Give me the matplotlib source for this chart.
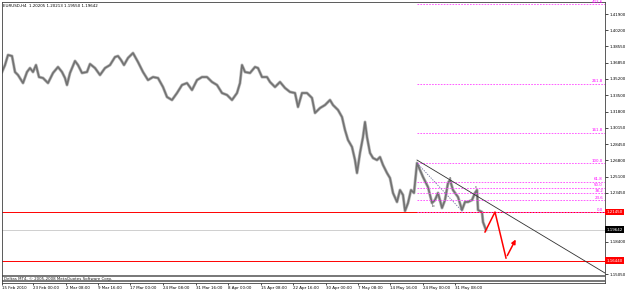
import numpy as np
import matplotlib.pyplot as plt

# EURUSD H4, traced close path (bar index, price)
bars = [0, 3, 6, 10, 13, 16, 21, 25, 28, 31, 34, 37, 41, 46, 51, 56, 60, 63, 65, 68,
        73, 76, 80, 85, 88, 93, 98, 103, 108, 113, 116, 119, 122, 126, 131, 136, 141, 146, 151, 156,
        161, 165, 170, 175, 180, 185, 190, 195, 200, 205, 210, 215, 220, 225, 230, 235, 238, 240, 243, 248,
        253, 256, 260, 265, 268, 273, 278, 283, 288, 293, 296, 300, 305, 310, 313, 318, 323, 328, 331, 336,
        340, 343, 346, 350, 353, 355, 358, 361, 363, 365, 368, 371, 375, 378, 381, 385, 388, 391, 395, 398,
        401, 403, 406, 409, 412, 415, 418, 421, 426, 430, 433, 436, 440, 443, 446, 448, 451, 456, 460, 463,
        466, 470, 473, 475, 476, 480, 481, 484]
price = [1.3591, 1.3663, 1.3767, 1.3756, 1.3591, 1.3560, 1.3477, 1.3591, 1.3632, 1.3591,
         1.3663, 1.3539, 1.3529, 1.3477, 1.3581, 1.3643, 1.3591, 1.3529, 1.3457, 1.3581,
         1.3705, 1.3663, 1.3581, 1.3591, 1.3674, 1.3632, 1.3560, 1.3632, 1.3663, 1.3746,
         1.3756, 1.3715, 1.3663, 1.3736, 1.3787, 1.3694, 1.3591, 1.3508, 1.3539, 1.3529,
         1.3436, 1.3333, 1.3302, 1.3374, 1.3457, 1.3477, 1.3405, 1.3508, 1.3539, 1.3539,
         1.3488, 1.3457, 1.3374, 1.3354, 1.3302, 1.3374, 1.3477, 1.3663, 1.3591, 1.3581,
         1.3643, 1.3632, 1.3539, 1.3539, 1.3488, 1.3436, 1.3488, 1.3426, 1.3385, 1.3374,
         1.3230, 1.3374, 1.3374, 1.3323, 1.3168, 1.3219, 1.3250, 1.3302, 1.3250, 1.3199,
         1.3126, 1.2992, 1.2889, 1.2817, 1.2682, 1.2548, 1.2755, 1.2920, 1.3075, 1.2920,
         1.2755, 1.2703, 1.2682, 1.2713, 1.2631, 1.2548, 1.2496, 1.2342, 1.2249, 1.2372,
         1.2321, 1.2156, 1.2238, 1.2372, 1.2342, 1.2651, 1.2579, 1.2507, 1.2403, 1.2238,
         1.2269, 1.2342, 1.2187, 1.2269, 1.2445, 1.2476, 1.2372, 1.2300, 1.2166, 1.2249,
         1.2249, 1.2269, 1.2342, 1.2372, 1.2166, 1.2145, 1.2042, 1.1959]

tick_bars = [0, 31, 64, 96, 128, 161, 194, 226, 259, 291, 324, 356, 388, 421, 453]
tick_labels = ['15 Feb 2010', '23 Feb 00:00', '2 Mar 08:00', '9 Mar 16:00', '17 Mar 00:00',
               '24 Mar 08:00', '31 Mar 16:00', '8 Apr 00:00', '15 Apr 08:00', '22 Apr 16:00',
               '30 Apr 00:00', '7 May 08:00', '14 May 16:00', '24 May 00:00', '31 May 08:00']
ytick_vals = [1.41900, 1.40200, 1.38550, 1.36850, 1.35200, 1.33500, 1.31800, 1.30150,
              1.28450, 1.26800, 1.25100, 1.23450, 1.18400, 1.15050]

fib_ratio = [0.0, 23.6, 38.2, 50.0, 61.8, 100.0, 161.8, 261.8, 423.6]
fib_zero = 1.2145
fib_hundred = 1.2651
support = [1.2145, 1.1644]
support_labels = ['1.21450', '1.16440']
last_price = 1.19642
trend_bar = [415, 603]
trend_price = [1.2682, 1.1515]
proj_bar = [483, 493, 504, 515]
proj_price = [1.1939, 1.2145, 1.1670, 1.1887]

fs = 2.9
fig = plt.figure(figsize=(6.25, 2.92), dpi=100)
ax = fig.add_axes([2/625, 9/292, 603/625, 281/292])
ax.set_xlim(0, 603)
ax.set_ylim(1.14121, 1.43140)

ax.plot(bars, price, color='#b8b8b8', lw=2.2)
ax.plot(bars, price, color='#727272', lw=1.2)

ax.axhline(last_price, color='#c8c8c8', lw=0.6)
for s in support:
    ax.axhline(s, color='red', lw=0.7)

fib_levels = [fib_zero + r / 100 * (fib_hundred - fib_zero) for r in fib_ratio]
for r, lv in zip(fib_ratio, fib_levels):
    ax.plot([415, 603], [lv, lv], color='#ff44ff', lw=0.6, ls=(0, (2, 1.5)))
    ax.text(601, lv + 0.0004, '%.1f' % r, color='#ff00ff', fontsize=fs, ha='right', va='bottom')
ax.plot([415, 460], [fib_hundred, 1.2156], color='#6a6a9a', lw=0.6, ls=(0, (1.5, 1.5)))

ax.plot(trend_bar, trend_price, color='#303030', lw=0.6)

ax.text(431, 1.2195, 'b', fontsize=fs, color='#404040', ha='center')
ax.text(448, 1.2490, 'a', fontsize=fs, color='#404040', ha='center')
ax.text(474, 1.2395, 'c', fontsize=fs, color='#404040', ha='center')

ax.plot(proj_bar[:3], proj_price[:3], color='red', lw=1.1)
ax.annotate('', xy=(proj_bar[3], proj_price[3]), xytext=(proj_bar[2], proj_price[2]),
            arrowprops=dict(arrowstyle='-|>', color='red', lw=1.1, mutation_scale=6))

ax.axhspan(1.1474, 1.1495, color='#7a7a7a', lw=0)
ax.axhspan(1.1418, 1.1440, color='#7a7a7a', lw=0)
ax.text(2, 1.1457, 'Deltas MT4, \u00a9 2005-2008 MetaQuotes Software Corp.', fontsize=fs,
        color='#202020', va='center')

ax.yaxis.tick_right()
ax.set_yticks(ytick_vals)
ax.set_yticklabels(['%.5f' % v for v in ytick_vals])
ax.set_xticks(tick_bars)
ax.set_xticklabels(tick_labels, ha='left')
ax.tick_params(axis='both', labelsize=fs, length=2, width=0.5, pad=1.2)
ax.tick_params(axis='x', length=1.5, pad=0.6)
for sp in ax.spines.values():
    sp.set_linewidth(0.6)
    sp.set_color('#404040')

tr = ax.get_yaxis_transform()
for s, lab in zip(support, support_labels):
    ax.text(1.002, s, lab, transform=tr, color='white', fontsize=fs, va='center', clip_on=False,
            bbox=dict(facecolor='red', edgecolor='none', pad=0.8))
ax.text(1.002, last_price, '%.5f' % last_price, transform=tr, color='white', fontsize=fs,
        va='center', clip_on=False, bbox=dict(facecolor='black', edgecolor='none', pad=0.8))

fig.text(3/625, 1 - 6/292, 'EURUSD,H4  1.20205 1.20213 1.19550 1.19642', fontsize=fs, va='center')

plt.savefig('out.png', dpi=100)
